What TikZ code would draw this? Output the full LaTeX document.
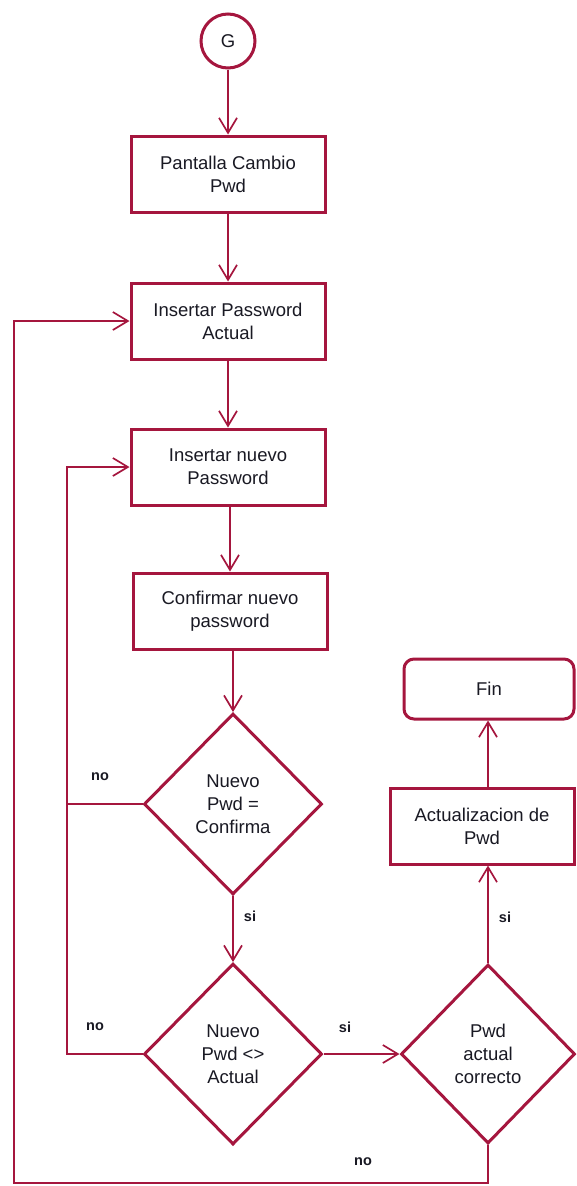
\documentclass[tikz,border=0pt]{standalone}
\usepackage{fontspec}
\setmainfont{Liberation Sans}
\usetikzlibrary{shapes.geometric,arrows.meta}
\definecolor{wine}{RGB}{165,22,62}
\definecolor{ink}{RGB}{25,25,35}
\begin{document}
\begin{tikzpicture}[x=1pt,y=-1pt,
  txt/.style={font=\fontsize{18.5}{23}\selectfont, text=ink, align=center},
  box/.style={txt, draw=wine, line width=3pt, fill=white, inner sep=0pt,
    minimum width=194pt, minimum height=76pt},
  endbox/.style={box, rounded corners=10pt, minimum width=170pt, minimum height=60pt},
  decision/.style={txt, diamond, draw=wine, line width=3pt, fill=white,
    inner sep=0pt, minimum width=178pt, minimum height=181pt},
  start/.style={txt, circle, draw=wine, line width=3pt, fill=white,
    inner sep=0pt, minimum size=54pt},
  link/.style={draw=wine, line width=1.7pt},
  arr/.style={link, -{Straight Barb[length=15pt,width=18pt,line width=1.7pt]}},
  lab/.style={font=\bfseries\fontsize{14.5}{16}\selectfont, text=ink}
]
\useasboundingbox (0,0) rectangle (576,1186);

% main column
\node[start] (g) at (228,41) {G};
\node[box] (b1) at (228,174) {Pantalla Cambio\\Pwd};
\node[box] (b2) at (228,321) {Insertar Password\\Actual};
\node[box] (b3) at (228,467) {Insertar nuevo\\Password};
\node[box] (b4) at (230,611) {Confirmar nuevo\\password};
\node[decision] (d1) at (233,804) {Nuevo\\Pwd =\\Confirma};
\node[decision] (d2) at (233,1054) {Nuevo\\Pwd <>\\Actual};

% right column
\node[decision, minimum width=174pt, minimum height=179pt] (d3) at (488,1054) {Pwd\\actual\\correcto};
\node[box, minimum width=184pt] (act) at (482,826) {Actualizacion de\\Pwd};
\node[endbox] (fin) at (489,689) {Fin};

% loop rails
\coordinate (il) at (67,0);
\coordinate (ol) at (14,1183);

% straight flow
\draw[arr] (g) -- (b1);
\draw[arr] (b1) -- (b2);
\draw[arr] (b2) -- (b3);
\draw[arr] (b4.north |- b3.south) -- (b4.north);
\draw[arr] (d1.north |- b4.south) -- (d1.north);
\draw[arr] (d1.south) -- (d2.north);
\draw[arr] (d2.east) -- (d3.west);
\draw[arr] (d3.north) -- (d3.north |- act.south);
\draw[arr] (d3.north |- act.north) -- (d3.north |- fin.south);

% back loops
\draw[arr] (d1.west) -- (il |- d1.west) -- (il |- b3.west) -- (b3.west);
\draw[link] (d2.west) -- (il |- d2.west) -- (il |- d1.west);
\draw[arr] (d3.south) -- (d3.south |- ol) -- (ol) -- (ol |- b2.west) -- (b2.west);

% branch labels
\node[lab] (n1) at (100,777) {no};
\node[lab] (s1) at (250,916) {si};
\node[lab] (n2) at (95,1027) {no};
\node[lab] (s2) at (345,1027) {si};
\node[lab] (n3) at (363,1162) {no};
\node[lab] (s3) at (505,917) {si};
\end{tikzpicture}
\end{document}
